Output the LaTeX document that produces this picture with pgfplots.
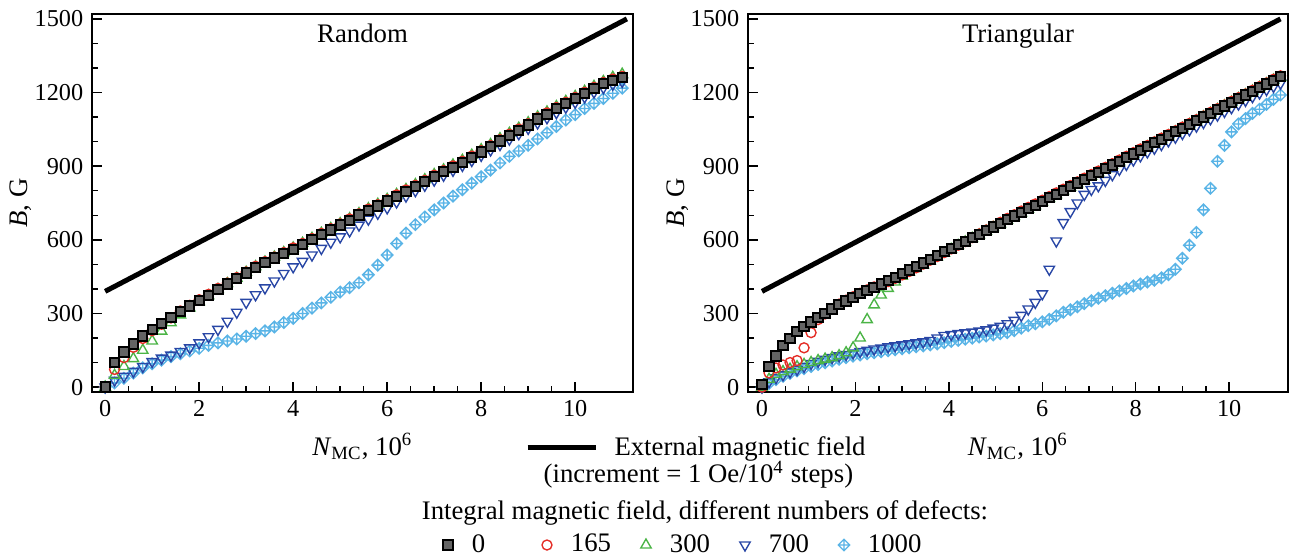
\documentclass[border=0pt]{standalone}
\usepackage{fontspec}
\setmainfont{Liberation Serif}
\usepackage{pgfplots}
\pgfplotsset{compat=1.18}
\usepackage{pgfplotstable}

\definecolor{sqgray}{RGB}{100,100,100}
\definecolor{cred}{RGB}{228,45,38}
\definecolor{cgreen}{RGB}{75,180,70}
\definecolor{cdblue}{RGB}{40,70,165}
\definecolor{clblue}{RGB}{90,180,230}

\pgfdeclareplotmark{dplus}{%
  \pgfpathmoveto{\pgfqpoint{0pt}{\pgfplotmarksize}}%
  \pgfpathlineto{\pgfqpoint{\pgfplotmarksize}{0pt}}%
  \pgfpathlineto{\pgfqpoint{0pt}{-\pgfplotmarksize}}%
  \pgfpathlineto{\pgfqpoint{-\pgfplotmarksize}{0pt}}%
  \pgfpathclose
  \pgfpathmoveto{\pgfqpoint{0pt}{\pgfplotmarksize}}%
  \pgfpathlineto{\pgfqpoint{0pt}{-\pgfplotmarksize}}%
  \pgfpathmoveto{\pgfqpoint{-\pgfplotmarksize}{0pt}}%
  \pgfpathlineto{\pgfqpoint{\pgfplotmarksize}{0pt}}%
  \pgfusepathqstroke}

% Random lattice
\pgfplotstableread{
x    d0    d165  d300  d700  d1000
0    0     0     0     0     0
0.2  100   72    48    28    17
0.4  143   120   84    44    36
0.6  176   162   116   64    57
0.8  208   198   150   84    78
1.0  236   230   188   104   95
1.2  258   256   228   118   110
1.4  282   282   262   130   124
1.6  308   310   294   145   136
1.8  330   333   322   160   147
2.0  352   356   348   180   158
2.2  374   378   372   205   170
2.4  398   402   398   235   180
2.6  420   424   422   268   188
2.8  441   446   444   305   196
3.0  465   469   468   345   207
3.2  488   492   491   376   218
3.4  507   511   510   404   229
3.6  526   530   530   432   245
3.8  543   548   548   463   263
4.0  562   567   567   490   280
4.2  580   585   586   512   300
4.4  600   605   606   538   322
4.6  621   626   627   565   343
4.8  640   645   646   590   366
5.0  660   665   666   612   387
5.2  680   685   686   636   405
5.4  701   706   707   660   425
5.6  720   725   727   684   458
5.8  738   743   745   708   497
6.0  758   763   765   730   538
6.2  778   783   785   754   585
6.4  798   803   805   778   627
6.6  817   822   825   800   662
6.8  837   842   845   822   693
7.0  858   863   866   843   722
7.2  877   882   885   863   750
7.4  896   901   905   883   778
7.6  915   920   924   903   804
7.8  936   941   945   923   831
8.0  958   963   967   944   857
8.2  979   984   988   966   884
8.4  1003  1008  1012  988   913
8.6  1025  1030  1034  1010  940
8.8  1046  1051  1055  1032  962
9.0  1068  1073  1077  1054  985
9.2  1092  1097  1101  1076  1011
9.4  1112  1117  1121  1097  1036
9.6  1134  1139  1143  1118  1062
9.8  1155  1160  1164  1140  1088
10.0 1175  1180  1184  1160  1110
10.2 1196  1201  1205  1182  1135
10.4 1216  1221  1225  1202  1156
10.6 1236  1241  1245  1220  1176
10.8 1250  1255  1262  1234  1197
11.0 1260  1266  1275  1245  1218
}\rnd

% Triangular lattice
\pgfplotstableread{
x     d0    d165  d300  d700  d1000
0     10    0     0     0     0
0.15  85    58    32    22    15
0.3   127   78    52    38    30
0.45  170   90    63    50    44
0.6   198   100   73    62    56
0.75  226   108   83    72    66
0.9   247   160   92    84    75
1.05  265   222   100   96    84
1.2   283   275   108   105   92
1.35  301   298   114   113   99
1.5   318   318   120   120   106
1.65  336   338   128   127   113
1.8   351   354   140   133   120
1.95  366   368   160   139   126
2.1   380   382   200   145   131
2.25  393   396   275   150   136
2.4   406   408   335   155   140
2.55  420   420   375   159   144
2.7   433   430   402   164   148
2.85  448   443   428   168   152
3.0   463   457   452   172   156
3.15  477   471   468   176   160
3.3   491   486   483   180   164
3.45  506   501   498   184   168
3.6   521   517   514   190   172
3.75  536   532   530   200   176
3.9   551   548   546   210   181
4.05  566   563   561   214   186
4.2   580   578   577   218   190
4.35  594   593   591   221   195
4.5   609   609   606   224   199
4.65  623   624   620   228   204
4.8   638   640   635   233   208
4.95  652   655   650   240   213
5.1   667   671   665   248   218
5.25  682   687   680   258   222
5.4   697   702   695   272   230
5.55  712   717   710   292   240
5.7   727   732   725   318   250
5.85  741   746   739   345   258
6.0   756   761   754   380   266
6.15  771   776   769   480   276
6.3   786   791   784   595   290
6.45  801   806   799   670   305
6.6   816   821   814   715   315
6.75  831   836   829   750   327
6.9   846   851   844   785   340
7.05  861   866   859   805   352
7.2   875   880   874   820   362
7.35  890   895   889   842   372
7.5   905   910   904   865   382
7.65  920   925   919   887   392
7.8   935   940   934   907   402
7.95  950   955   949   925   412
8.1   965   970   964   942   420
8.25  980   984   979   958   428
8.4   995   999   994   973   435
8.55  1010  1014  1009  988   445
8.7   1025  1029  1024  1003  458
8.85  1040  1044  1040  1018  480
9.0   1055  1059  1055  1033  525
9.15  1070  1074  1070  1048  578
9.3   1085  1089  1085  1063  630
9.45  1100  1104  1101  1078  722
9.6   1115  1119  1116  1093  810
9.75  1130  1134  1131  1108  920
9.9   1145  1149  1146  1123  985
10.05 1160  1164  1161  1138  1040
10.2  1175  1179  1176  1153  1072
10.35 1190  1194  1191  1168  1094
10.5  1205  1209  1206  1183  1115
10.65 1220  1224  1221  1198  1132
10.8  1235  1239  1236  1212  1152
10.95 1250  1254  1251  1225  1172
11.1  1265  1268  1262  1238  1190
}\tri

% External field
\pgfplotstableread{
x     B
0     390
11.1  1500
}\ext

\pgfplotsset{
  s0/.style={only marks, mark=square*, mark size=1.85pt,
    mark options={fill=sqgray, draw=black, line width=0.8pt}},
  s165/.style={only marks, mark=o, mark size=2pt, color=cred,
    mark options={line width=0.55pt}},
  s300/.style={only marks, mark=triangle, mark size=2.4pt, color=cgreen,
    mark options={line width=0.55pt}},
  s700/.style={only marks, mark=triangle, mark size=2.4pt, color=cdblue,
    mark options={line width=0.55pt, rotate=180}},
  s1000/.style={only marks, mark=dplus, mark size=2.3pt, color=clblue,
    mark options={line width=0.55pt}},
  extline/.style={black, line width=2pt, no marks},
  myaxis/.style={scale only axis, height=151.2pt, ymin=-20, ymax=1520,
    xtick={0,2,4,6,8,10}, ytick={0,300,600,900,1200,1500},
    minor x tick num=3, minor y tick num=2,
    tick align=inside, tick pos=left,
    major tick length=4pt, minor tick length=2.4pt,
    axis line style={line width=0.8pt},
    every tick/.style={black, line width=0.6pt},
    tick label style={font=\fontsize{9.7}{11}\selectfont},
    /pgf/number format/assume math mode=true,
    /pgf/number format/1000 sep={},
    xlabel={\textit{N}\textsubscript{MC}, 10\textsuperscript{6}},
    ylabel={\textit{B}, G},
    xlabel style={at={(axis description cs:0.5,0)}, anchor=base, yshift=-25.2pt},
    ylabel style={at={(axis description cs:-0.131,0.5)}, anchor=center},
    every axis title shift=0pt,
    title style={at={(axis description cs:0.5,1)}, anchor=base, yshift=-11.2pt},
    clip=false},
}

\begin{document}
\begin{tikzpicture}[font=\fontsize{10.7}{12.8}\selectfont]
\useasboundingbox (-36.8pt,-65.6pt) rectangle (480.8pt,156.8pt);

\begin{axis}[myaxis, at={(0pt,0pt)}, anchor=south west,
  width=216.4pt, xmin=-0.28, xmax=11.23, title={Random},
  legend cell align=left,
  legend style={draw=none, fill=none, at={(0.8004,-0.1481)}, anchor=west,
    inner sep=0pt, outer sep=0pt, nodes={inner sep=0pt}},
  legend image code/.code={\draw[#1] (0pt,0pt) -- (27.2pt,0pt);
    \path[draw=none, fill=none] (0pt,0pt) -- (34.8pt,0pt);}]
\addlegendimage{extline}
\addlegendentry{External magnetic field}
\addplot[extline, forget plot] table[x=x, y=B] {\ext};
\addplot[s1000, forget plot] table[x=x, y=d1000] {\rnd};
\addplot[s700, forget plot] table[x=x, y=d700] {\rnd};
\addplot[s300, forget plot] table[x=x, y=d300] {\rnd};
\addplot[s165, forget plot] table[x=x, y=d165] {\rnd};
\addplot[s0, forget plot] table[x=x, y=d0] {\rnd};
\end{axis}

\begin{axis}[myaxis, at={(262.4pt,0pt)}, anchor=south west,
  width=216pt, xmin=-0.30, xmax=11.26, title={Triangular},
  legend columns=5, legend cell align=left,
  legend style={draw=none, fill=none, at={(-0.5676,-0.4048)}, anchor=west,
    inner sep=0pt, outer sep=0pt, column sep=0pt,
    nodes={inner sep=0pt, text width=27.4pt}},
  legend image code/.code={\draw[#1] plot coordinates {(0pt,0pt)};
    \path[draw=none, fill=none] (-2.6pt,0pt) -- (9.6pt,0pt);}]
\addlegendimage{s0}
\addlegendentry{0}
\addlegendimage{s165}
\addlegendentry{165}
\addlegendimage{s300}
\addlegendentry{300}
\addlegendimage{s700}
\addlegendentry{700}
\addlegendimage{s1000}
\addlegendentry{1000}
\addplot[extline, forget plot] table[x=x, y=B] {\ext};
\addplot[s1000, forget plot] table[x=x, y=d1000] {\tri};
\addplot[s700, forget plot] table[x=x, y=d700] {\tri};
\addplot[s300, forget plot] table[x=x, y=d300] {\tri};
\addplot[s165, forget plot] table[x=x, y=d165] {\tri};
\addplot[s0, forget plot] table[x=x, y=d0] {\tri};
\end{axis}

\node[anchor=base east] at (308pt,-36.4pt) {(increment = 1 Oe/10\textsuperscript{4} steps)};
\node[anchor=base] at (245.2pt,-51.2pt) {Integral magnetic field, different numbers of defects:};
\end{tikzpicture}
\end{document}
